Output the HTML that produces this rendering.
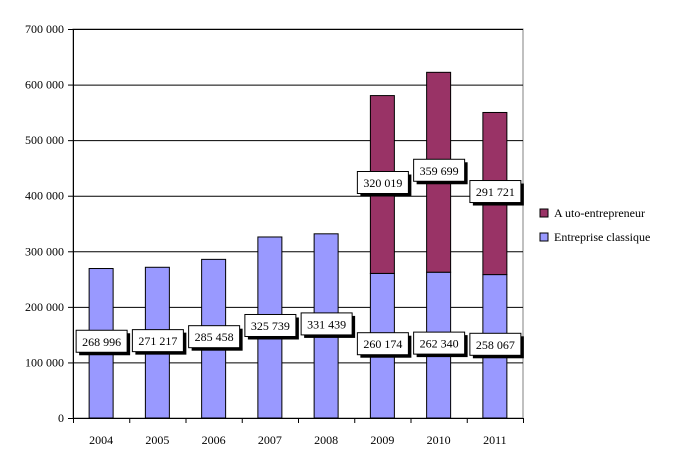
<!DOCTYPE html>
<html><head><meta charset="utf-8"><style>
body{margin:0;background:#fff;}
svg text{font-family:"Liberation Serif",serif;font-size:12px;fill:#000;}
</style></head><body>
<svg id="chart" width="685" height="469" xmlns="http://www.w3.org/2000/svg"></svg>
<script>
const categories=["2004","2005","2006","2007","2008","2009","2010","2011"];
const classique=[268996,271217,285458,325739,331439,260174,262340,258067];
const auto=[0,0,0,0,0,320019,359699,291721];
const yTicks=[0,100000,200000,300000,400000,500000,600000,700000];
const NS="http://www.w3.org/2000/svg";
const svg=document.getElementById('chart');
const X0=73,X1=523,Y0=418,Y1=29,YMAX=700000;
const cw=(X1-X0)/categories.length;
const y=v=>Y0-(v/YMAX)*(Y0-Y1);
const xc=i=>X0+cw*(i+0.5);
function mk(t,a,p){const e=document.createElementNS(NS,t);for(const k in a)e.setAttribute(k,a[k]);(p||svg).appendChild(e);return e;}
const fmt=v=>{const s=String(v);return s.length>3?s.slice(0,-3)+' '+s.slice(-3):s;};
// plot border
const border=mk('rect',{x:X0,y:Y1,width:X1-X0,height:Y0-Y1,fill:'none',stroke:'#808080','stroke-width':1});


yTicks.forEach(t=>{
  const gl=mk('line',{x1:X0,x2:X1,y1:y(t)+0.5,y2:y(t)+0.5,stroke:'#000','stroke-width':1});
  
  
  mk('line',{x1:X0-5,x2:X0,y1:y(t)+0.5,y2:y(t)+0.5,stroke:'#000'});
  const tx=mk('text',{x:X0-9,y:y(t)+4,'text-anchor':'end'});tx.textContent=fmt(t);
  
  
});
mk('line',{x1:X0+0.5,x2:X0+0.5,y1:Y1,y2:Y0,stroke:'#000'});
for(let i=0;i<=categories.length;i++){mk('line',{x1:X0+cw*i+0.5,x2:X0+cw*i+0.5,y1:Y0,y2:Y0+5,stroke:'#000'});}
const bw=24;
function label(cx,cy,v){
  const g=mk('g',{});
  
  
  mk('rect',{x:cx-25+3,y:cy-11+3,width:51,height:22,fill:'#000'},g);
  mk('rect',{x:cx-25,y:cy-11,width:51,height:22,fill:'#fff',stroke:'#000'},g);
  const t=mk('text',{x:cx+0.5,y:cy+4.5,'text-anchor':'middle'},g);t.textContent=fmt(v);
}
categories.forEach((c,i)=>{
  const cx=xc(i);
  const b=mk('rect',{x:cx-bw/2,y:y(classique[i]),width:bw,height:Y0-y(classique[i]),fill:'#9999ff',stroke:'#000'});
  
  
  if(auto[i]>0){
    const b2=mk('rect',{x:cx-bw/2,y:y(classique[i]+auto[i]),width:bw,height:y(classique[i])-y(classique[i]+auto[i]),fill:'#993366',stroke:'#000'});
    
    
  }
  const tx=mk('text',{x:cx,y:Y0+26,'text-anchor':'middle'});tx.textContent=c;
  
  
});
categories.forEach((c,i)=>{
  const cx=xc(i);
  label(cx,y(classique[i]/2)-2,classique[i]);
  if(auto[i]>0)label(cx,y(classique[i]+auto[i]/2)-2,auto[i]);
});
const leg=[["A uto-entrepreneur","#993366",213],["Entreprise classique","#9999ff",237]];
leg.forEach(l=>{
  const g=mk('g',{});
  
  
  mk('rect',{x:540,y:l[2]-4,width:8,height:8,fill:l[1],stroke:'#000'},g);
  const t=mk('text',{x:554,y:l[2]+4},g);t.textContent=l[0];
});
</script>
</body></html>
